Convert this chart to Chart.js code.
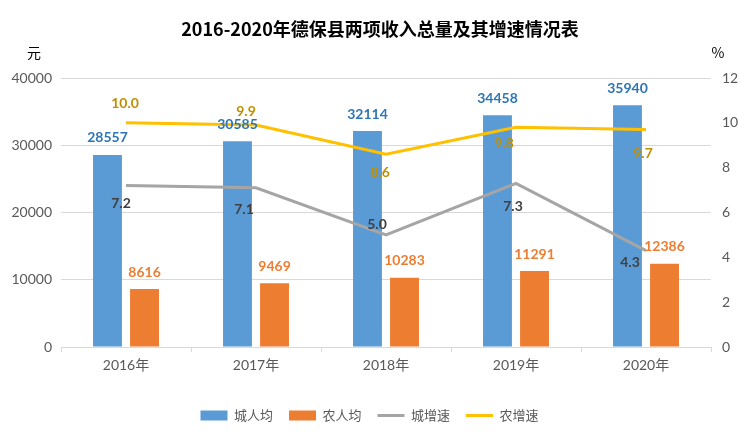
<!DOCTYPE html>
<html>
<head>
<meta charset="utf-8">
<script src="https://cdn.jsdelivr.net/npm/chart.js@4.4.0/dist/chart.umd.min.js"></script>
<style>
	html, body { margin: 0; padding: 0; background: #fff; }
	#wrap { width: 739px; height: 432px; position: relative; }
</style>
</head>
<body>
<div id="wrap"><canvas id="chart"></canvas></div>
<script type="text/javascript">
	// values
	const years = ["2016年", "2017年", "2018年", "2019年", "2020年"]
	const cityIncome = [28557, 30585, 32114, 34458, 35940]
	const ruralIncome = [8616, 9469, 10283, 11291, 12386]
	const cityGrowth = [7.2, 7.1, 5.0, 7.3, 4.3]
	const ruralGrowth = [10.0, 9.9, 8.6, 9.8, 9.7]
	const incomeTicks = [0, 10000, 20000, 30000, 40000]
	const growthTicks = [0, 2, 4, 6, 8, 10, 12]

	const colors = {
		blue: "#5B9BD5",
		orange: "#ED7D31",
		gray: "#A5A5A5",
		yellow: "#FFC000",
		grid: "#D9D9D9",
		text: "#595959",
	}
	const sans = "Lato, 'Noto Sans CJK SC', sans-serif"

	// where each value label sits relative to its mark (dx, dy)
	const labelStyles = [
		{color: "#2E75B6", off: [[0, -17]]},
		{color: "#ED7D31", off: [[0, -17]]},
		{color: "#404040", off: [[-5, 18], [-12, 22], [-9, -10], [-3, 23], [-16, 12]], fixed: 1},
		{color: "#BF9000", off: [[-1, -19], [-10, -14], [-6, 18], [-12, 16], [-3, 24]], fixed: 1},
	]

	let valueLabels = {
		id: "valueLabels",
		afterDatasetsDraw: function(chart) {
			let ctx = chart.ctx
			ctx.save()
			ctx.font = "bold 14px " + sans
			ctx.textAlign = "center"
			ctx.textBaseline = "middle"
			chart.data.datasets.forEach(function(ds, i) {
				let st = labelStyles[i]
				ctx.fillStyle = st.color
				chart.getDatasetMeta(i).data.forEach(function(el, j) {
					let o = st.off[j] || st.off[0]
					let v = ds.data[j]
					let txt = st.fixed ? v.toFixed(st.fixed) : String(v)
					ctx.fillText(txt, el.x + o[0], el.y + o[1])
				})
			})
			ctx.restore()
		},
		afterDraw: function(chart) {
			let ctx = chart.ctx
			ctx.save()
			ctx.fillStyle = "#000"
			ctx.textAlign = "center"
			ctx.textBaseline = "middle"
			ctx.font = "bold 18px 'Noto Sans CJK SC', sans-serif"
			ctx.fillText("2016-2020年德保县两项收入总量及其增速情况表", 380, 29)
			ctx.font = "14px 'Noto Sans CJK SC', sans-serif"
			ctx.fillText("元", 34, 53)
			ctx.fillText("%", 718, 53)
			ctx.restore()
		},
	}

	let plain = function(v) {
		return String(v)
	}

	let elem = document.querySelector("#chart")
	let chart = new Chart(elem, {
		type: "bar",
		data: {
			labels: years,
			datasets: [{
				label: "城人均",
				data: cityIncome,
				backgroundColor: colors.blue,
				yAxisID: "y",
				order: 2,
				pointStyle: "rect",
				categoryPercentage: 0.57,
				barPercentage: 0.78,
			}, {
				label: "农人均",
				data: ruralIncome,
				backgroundColor: colors.orange,
				yAxisID: "y",
				order: 2,
				pointStyle: "rect",
				categoryPercentage: 0.57,
				barPercentage: 0.78,
			}, {
				type: "line",
				label: "城增速",
				data: cityGrowth,
				borderColor: colors.gray,
				backgroundColor: colors.gray,
				borderWidth: 3,
				pointRadius: 0,
				pointStyle: "line",
				tension: 0,
				yAxisID: "y1",
				order: 1,
			}, {
				type: "line",
				label: "农增速",
				data: ruralGrowth,
				borderColor: colors.yellow,
				backgroundColor: colors.yellow,
				borderWidth: 3,
				pointRadius: 0,
				pointStyle: "line",
				tension: 0,
				yAxisID: "y1",
				order: 0,
			}],
		},
		options: {
			responsive: true,
			maintainAspectRatio: false,
			animation: false,
			layout: {
				padding: {top: 78, left: 0, right: 0, bottom: 0},
			},
			plugins: {
				title: {display: false},
				tooltip: {enabled: false},
				legend: {
					position: "bottom",
					labels: {
						usePointStyle: true,
						pointStyleWidth: 27,
						boxHeight: 10,
						padding: 16,
						color: colors.text,
						font: {size: 13, family: sans},
						sort: function(a, b) {
							return a.datasetIndex - b.datasetIndex
						},
					},
				},
			},
			scales: {
				x: {
					offset: true,
					grid: {
						display: true,
						drawOnChartArea: false,
						drawTicks: true,
						tickLength: 5,
						color: colors.grid,
					},
					border: {display: true, color: colors.grid},
					ticks: {
						color: colors.text,
						font: {size: 14, family: sans},
						padding: 5,
					},
					afterFit: function(scale) {
						scale.height = 46
					},
				},
				y: {
					position: "left",
					min: incomeTicks[0],
					max: incomeTicks[incomeTicks.length - 1],
					afterBuildTicks: function(scale) {
						scale.ticks = incomeTicks.map(function(v) { return {value: v} })
					},
					grid: {color: colors.grid, drawTicks: false},
					border: {display: false},
					ticks: {
						color: colors.text,
						font: {size: 14, family: sans},
						padding: 9,
						callback: plain,
					},
					afterFit: function(scale) {
						scale.width = 61
					},
				},
				y1: {
					position: "right",
					min: growthTicks[0],
					max: growthTicks[growthTicks.length - 1],
					afterBuildTicks: function(scale) {
						scale.ticks = growthTicks.map(function(v) { return {value: v} })
					},
					grid: {drawOnChartArea: false, drawTicks: false},
					border: {display: false},
					ticks: {
						color: colors.text,
						font: {size: 14, family: sans},
						padding: 11,
						callback: plain,
					},
					afterFit: function(scale) {
						scale.width = 28
					},
				},
			},
		},
		plugins: [valueLabels],
	})
</script>
</body>
</html>
